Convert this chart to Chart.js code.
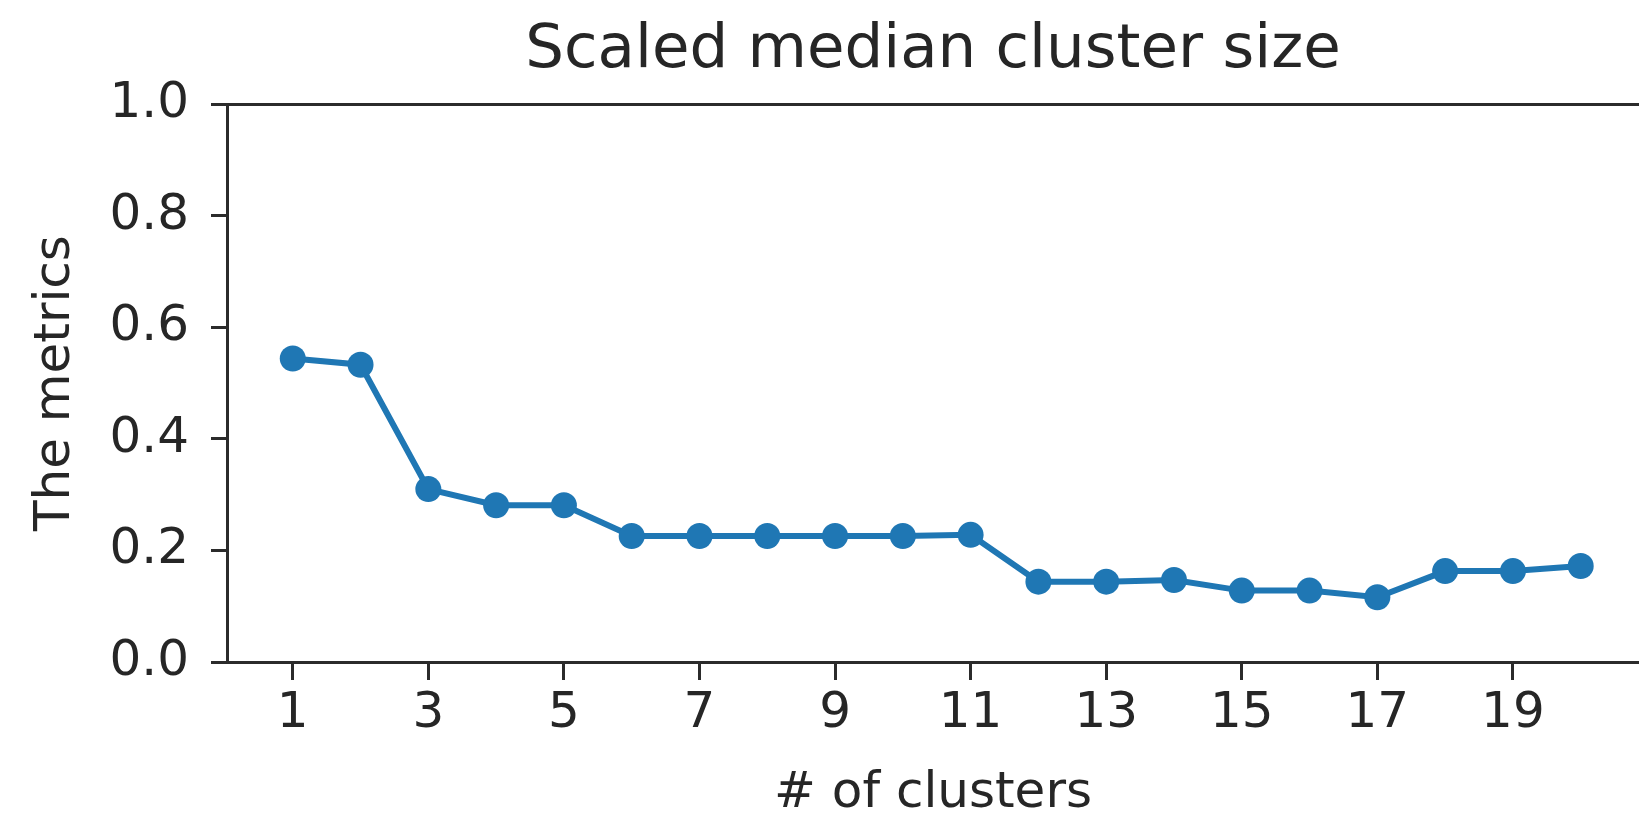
<!DOCTYPE html>
<html>
<head>
<meta charset="utf-8">
<script src="https://cdn.jsdelivr.net/npm/chart.js@4"></script>
<style>
  html, body { margin: 0; padding: 0; background: #fff; }
  #wrap { width: 1639px; height: 813px; }
</style>
</head>
<body>
<div id="wrap"><canvas id="myChart" width="1639" height="813"></canvas></div>
<script>
let clusters = [1, 2, 3, 4, 5, 6, 7, 8, 9, 10, 11, 12, 13, 14, 15, 16, 17, 18, 19, 20];
let metrics = [0.544, 0.533, 0.31, 0.281, 0.281, 0.226, 0.226, 0.226, 0.226, 0.226, 0.228,
               0.144, 0.144, 0.147, 0.128, 0.128, 0.116, 0.163, 0.163, 0.172];
let xTicks = [1, 3, 5, 7, 9, 11, 13, 15, 17, 19];
let yTicks = [0, 0.2, 0.4, 0.6, 0.8, 1.0];

let textColor = '#262626';
let spineColor = '#2b2b2b';
let font = 'DejaVu Sans';

let ctx = document.getElementById("myChart").getContext('2d');

let chart = new Chart(ctx, {
    type: 'line',
    data: {
        datasets: [{
            data: clusters.map((c, i) => ({ x: c, y: metrics[i] })),
            borderColor: '#1f77b4',
            backgroundColor: '#1f77b4',
            borderWidth: 6,
            pointRadius: 13,
            pointBorderWidth: 0,
            pointBackgroundColor: '#1f77b4',
            tension: 0
        }]
    },
    options: {
        responsive: false,
        animation: false,
        layout: { padding: 0, autoPadding: false },
        plugins: {
            legend: { display: false },
            tooltip: { enabled: false },
            title: {
                display: true,
                text: 'Scaled median cluster size',
                color: textColor,
                fullSize: false,
                font: { family: font, size: 61, weight: 'normal', lineHeight: 1.2 },
                padding: { top: 15, bottom: 16 }
            }
        },
        scales: {
            x: {
                type: 'linear',
                position: 'bottom',
                min: 0.03,
                max: 20.86,
                afterBuildTicks: (scale) => { scale.ticks = xTicks.map(v => ({ value: v })); },
                afterFit: (scale) => { scale.height = 151; },
                ticks: {
                    color: textColor,
                    font: { family: font, size: 50 },
                    padding: 4,
                    maxRotation: 0,
                    autoSkip: false
                },
                grid: {
                    display: true,
                    drawOnChartArea: false,
                    drawTicks: true,
                    tickLength: 18,
                    tickWidth: 3,
                    tickColor: spineColor
                },
                border: { display: true, color: spineColor, width: 3 },
                title: {
                    display: true,
                    text: '# of clusters',
                    color: textColor,
                    font: { family: font, size: 50, lineHeight: 0.76 },
                    padding: 0
                }
            },
            xTop: {
                type: 'linear',
                position: 'top',
                display: true,
                afterFit: (scale) => { scale.height = 0; },
                ticks: { display: false },
                grid: { display: false },
                border: { display: true, color: spineColor, width: 3 }
            },
            y: {
                min: 0,
                max: 1,
                afterBuildTicks: (scale) => { scale.ticks = yTicks.map(v => ({ value: v })); },
                afterFit: (scale) => { scale.width = 227; },
                ticks: {
                    color: textColor,
                    font: { family: font, size: 50 },
                    padding: 22,
                    callback: (v) => v.toFixed(1)
                },
                grid: {
                    display: true,
                    drawOnChartArea: false,
                    drawTicks: true,
                    tickLength: 16,
                    tickWidth: 3,
                    tickColor: spineColor
                },
                border: { display: true, color: spineColor, width: 3 },
                title: {
                    display: true,
                    text: 'The metrics',
                    color: textColor,
                    font: { family: font, size: 50, lineHeight: 1.2 },
                    padding: { top: 26, bottom: 0 }
                }
            }
        }
    }
});
</script>
</body>
</html>
